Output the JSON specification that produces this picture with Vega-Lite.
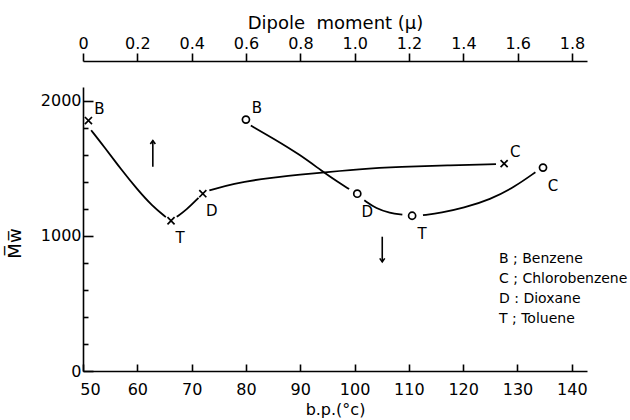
{
  "$schema": "https://vega.github.io/schema/vega-lite/v6.json",
  "width": 504,
  "height": 284,
  "autosize": {"type": "none"},
  "padding": {"left": 83, "top": 87, "right": 43, "bottom": 49},
  "background": "white",
  "config": {
    "view": {"stroke": null},
    "font": "DejaVu Sans",
    "axis": {
      "domainColor": "black", "domainWidth": 1.6, "tickColor": "black", "tickWidth": 1.6,
      "labelColor": "black", "titleColor": "black", "labelFont": "DejaVu Sans", "titleFont": "DejaVu Sans",
      "labelFontSize": 16, "titleFontSize": 17, "titleFontWeight": "normal", "grid": false, "labelOverlap": false, "labelFlush": false
    }
  },
  "datasets": {
    "circlePts": [
      {"bp": 80.0, "Mw": 1859, "code": "B", "label": "B ; Benzene"},
      {"bp": 100.5, "Mw": 1311, "code": "D", "label": "D : Dioxane"},
      {"bp": 110.6, "Mw": 1148, "code": "T", "label": "T ; Toluene"},
      {"bp": 134.7, "Mw": 1504, "code": "C", "label": "C ; Chlorobenzene"}
    ],
    "crossPts": [
      {"dipole": 0.02, "Mw": 1852, "code": "B", "label": "B ; Benzene"},
      {"dipole": 0.324, "Mw": 1111, "code": "T", "label": "T ; Toluene"},
      {"dipole": 0.441, "Mw": 1311, "code": "D", "label": "D : Dioxane"},
      {"dipole": 1.55, "Mw": 1533, "code": "C", "label": "C ; Chlorobenzene"}
    ],
    "circleCurve": [
      {"seg": 1, "bp": 80.9, "Mw": 1815}, {"seg": 1, "bp": 85.0, "Mw": 1720}, {"seg": 1, "bp": 90.0, "Mw": 1598},
      {"seg": 1, "bp": 94.0, "Mw": 1478}, {"seg": 1, "bp": 97.0, "Mw": 1395}, {"seg": 1, "bp": 99.0, "Mw": 1345},
      {"seg": 2, "bp": 101.8, "Mw": 1262}, {"seg": 2, "bp": 104.0, "Mw": 1200}, {"seg": 2, "bp": 106.5, "Mw": 1168}, {"seg": 2, "bp": 108.8, "Mw": 1156},
      {"seg": 3, "bp": 112.6, "Mw": 1152}, {"seg": 3, "bp": 116.0, "Mw": 1170}, {"seg": 3, "bp": 120.0, "Mw": 1205},
      {"seg": 3, "bp": 125.0, "Mw": 1268}, {"seg": 3, "bp": 129.5, "Mw": 1362}, {"seg": 3, "bp": 133.3, "Mw": 1470}
    ],
    "crossCurve": [
      {"seg": 1, "dipole": 0.03, "Mw": 1780}, {"seg": 1, "dipole": 0.08, "Mw": 1652}, {"seg": 1, "dipole": 0.14, "Mw": 1492},
      {"seg": 1, "dipole": 0.20, "Mw": 1342}, {"seg": 1, "dipole": 0.255, "Mw": 1220}, {"seg": 1, "dipole": 0.305, "Mw": 1138},
      {"seg": 2, "dipole": 0.345, "Mw": 1140}, {"seg": 2, "dipole": 0.38, "Mw": 1190}, {"seg": 2, "dipole": 0.425, "Mw": 1280},
      {"seg": 3, "dipole": 0.465, "Mw": 1335}, {"seg": 3, "dipole": 0.55, "Mw": 1385}, {"seg": 3, "dipole": 0.68, "Mw": 1428},
      {"seg": 3, "dipole": 0.85, "Mw": 1462}, {"seg": 3, "dipole": 1.02, "Mw": 1494}, {"seg": 3, "dipole": 1.17, "Mw": 1510},
      {"seg": 3, "dipole": 1.34, "Mw": 1521}, {"seg": 3, "dipole": 1.52, "Mw": 1530}
    ],
    "upArrow": [{"dipole": 0.257, "Mw": 1704, "Mw2": 1511}],
    "downArrow": [{"bp": 105.1, "Mw": 807, "Mw2": 993}]
  },
  "encoding": {
    "y": {
      "field": "Mw", "type": "quantitative",
      "scale": {"domain": [0, 2100], "nice": false, "zero": true},
      "axis": {
        "values": [0, 200, 400, 600, 800, 1000, 1200, 1400, 1600, 1800, 2000],
        "labelExpr": "datum.value % 1000 === 0 ? datum.label : ''",
        "format": "d",
        "tickSize": {"condition": {"test": "datum.value % 1000 === 0", "value": -10}, "value": -5},
        "labelPadding": 12,
        "title": "M\u0305w\u0305",
        "titleX": -68, "titleY": 156, "titleAngle": -90, "titleAlign": "center", "titleBaseline": "middle",
        "titleFontSize": 18
      }
    }
  },
  "layer": [
    {
      "encoding": {
        "x": {
          "field": "bp", "type": "quantitative",
          "scale": {"domain": [50, 142.8], "nice": false, "zero": false},
          "axis": {
            "orient": "bottom", "values": [50, 60, 70, 80, 90, 100, 110, 120, 130, 140],
            "tickSize": -7, "labelPadding": 17,
            "labelOffset": {"condition": {"test": "datum.value === 50", "value": 7}, "value": 0},
            "title": "b.p.(°c)", "titlePadding": 4, "titleFontSize": 16
          }
        }
      },
      "layer": [
        {
          "data": {"name": "circleCurve"},
          "mark": {"type": "line", "interpolate": "basis", "color": "black", "strokeWidth": 1.8},
          "encoding": {"detail": {"field": "seg"}}
        },
        {
          "data": {"name": "circlePts"},
          "mark": {"type": "point", "shape": "circle", "filled": false, "size": 50, "strokeWidth": 1.7, "opacity": 1},
          "encoding": {
            "color": {
              "field": "label", "type": "nominal",
              "scale": {"domain": ["B ; Benzene", "C ; Chlorobenzene", "D : Dioxane", "T ; Toluene"], "range": ["black", "black", "black", "black"]},
              "legend": {
                "title": null, "orient": "none", "legendX": 402, "legendY": 165,
                "symbolSize": 0, "symbolStrokeWidth": 0, "symbolOpacity": 0, "labelOffset": 0,
                "labelFont": "DejaVu Sans", "labelFontSize": 14, "labelColor": "black", "rowPadding": 6, "labelLimit": 300
              }
            }
          }
        },
        {
          "data": {"name": "circlePts"},
          "transform": [{"filter": "datum.code === 'B'"}],
          "mark": {"type": "text", "dx": 11, "dy": -12, "fontSize": 15, "color": "black", "font": "DejaVu Sans"},
          "encoding": {"text": {"field": "code"}}
        },
        {
          "data": {"name": "circlePts"},
          "transform": [{"filter": "datum.code !== 'B'"}],
          "mark": {"type": "text", "dx": 10, "dy": 18, "fontSize": 15, "color": "black", "font": "DejaVu Sans"},
          "encoding": {"text": {"field": "code"}}
        },
        {
          "data": {"name": "downArrow"},
          "mark": {"type": "rule", "color": "black", "strokeWidth": 1.6},
          "encoding": {"y2": {"field": "Mw2"}}
        },
        {
          "data": {"name": "downArrow"},
          "mark": {"type": "point", "shape": "M-1,-1.4L0,0L1,-1.4", "filled": false, "size": 25, "strokeWidth": 1.6, "color": "black", "opacity": 1},
          "encoding": {}
        }
      ]
    },
    {
      "encoding": {
        "x": {
          "field": "dipole", "type": "quantitative",
          "scale": {"domain": [0, 1.855], "nice": false, "zero": false},
          "axis": {
            "orient": "top", "values": [0, 0.2, 0.4, 0.6, 0.8, 1.0, 1.2, 1.4, 1.6, 1.8],
            "labelExpr": "datum.value === 0 ? '0' : format(datum.value, '.1f')",
            "tickSize": 8, "labelPadding": 2, "offset": 26,
            "title": "Dipole\u00a0\u00a0moment\u00a0(μ)", "titlePadding": 3, "titleFontSize": 18
          }
        }
      },
      "layer": [
        {
          "data": {"name": "crossCurve"},
          "mark": {"type": "line", "interpolate": "basis", "color": "black", "strokeWidth": 1.8},
          "encoding": {"detail": {"field": "seg"}}
        },
        {
          "data": {"name": "crossPts"},
          "mark": {"type": "point", "shape": "M-1,-1L1,1M1,-1L-1,1", "filled": false, "size": 50, "strokeWidth": 1.7, "opacity": 1},
          "encoding": {
            "color": {
              "field": "label", "type": "nominal",
              "scale": {"domain": ["B ; Benzene", "C ; Chlorobenzene", "D : Dioxane", "T ; Toluene"], "range": ["black", "black", "black", "black"]},
              "legend": {
                "title": null, "orient": "none", "legendX": 402, "legendY": 165,
                "symbolSize": 0, "symbolStrokeWidth": 0, "symbolOpacity": 0, "labelOffset": 0,
                "labelFont": "DejaVu Sans", "labelFontSize": 14, "labelColor": "black", "rowPadding": 6, "labelLimit": 300
              }
            }
          }
        },
        {
          "data": {"name": "crossPts"},
          "transform": [{"filter": "datum.code === 'B' || datum.code === 'C'"}],
          "mark": {"type": "text", "dx": 11, "dy": -12, "fontSize": 15, "color": "black", "font": "DejaVu Sans"},
          "encoding": {"text": {"field": "code"}}
        },
        {
          "data": {"name": "crossPts"},
          "transform": [{"filter": "datum.code === 'T' || datum.code === 'D'"}],
          "mark": {"type": "text", "dx": 9, "dy": 17, "fontSize": 15, "color": "black", "font": "DejaVu Sans"},
          "encoding": {"text": {"field": "code"}}
        },
        {
          "data": {"name": "upArrow"},
          "mark": {"type": "rule", "color": "black", "strokeWidth": 1.6},
          "encoding": {"y2": {"field": "Mw2"}}
        },
        {
          "data": {"name": "upArrow"},
          "mark": {"type": "point", "shape": "M-1,1.4L0,0L1,1.4", "filled": false, "size": 25, "strokeWidth": 1.6, "color": "black", "opacity": 1},
          "encoding": {}
        }
      ]
    }
  ],
  "resolve": {"scale": {"x": "independent"}, "axis": {"x": "independent"}}
}
